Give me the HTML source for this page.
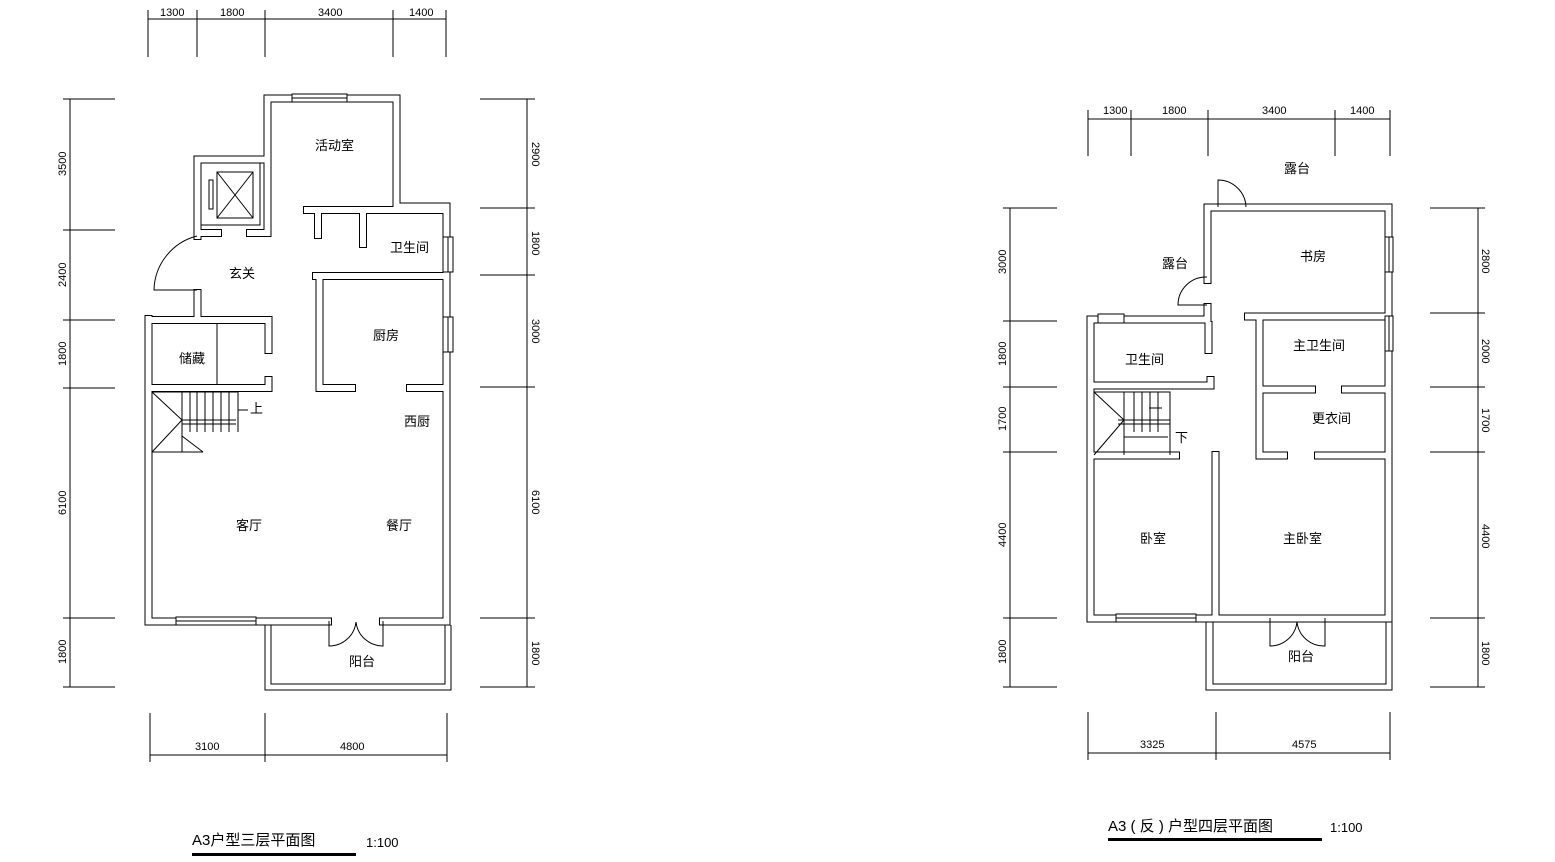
<!DOCTYPE html>
<html><head><meta charset="utf-8"><style>
html,body{margin:0;padding:0;background:#fff}
svg{display:block}
text{font-family:"Liberation Sans","Noto Sans CJK SC",sans-serif;fill:#000}
.d{stroke:#000;stroke-width:1;fill:none}
.t{font-size:11px}
.r{font-size:13px}
</style></head><body>
<svg width="1555" height="862" viewBox="0 0 1555 862" xmlns="http://www.w3.org/2000/svg">
<defs>
<g id="LW">
<path d="M148.5 319 V621.5 H328 M383 621.5 H446.5 V206.5 H396.5 V98.5 H267.5 V159.5 H197.5 V236"/>
<path d="M197.5 293 V320 M148.5 320 H268.5 V350 M268.5 380 V388 H148.5"/>
<path d="M267.5 159.5 V233 M264 233 H250 M201 233 H218"/>
<path d="M307 210 H446 M318 210 V235 M363 210 V244"/>
<path d="M316 276 H446 M319.5 276 V388 H352 M410 388 H446"/>
<path d="M1090.5 319.5 V618.5 H1388.5 V207.5 H1207.5 V280 M1207.5 307 V319.5 H1090.5"/>
<path d="M1248 316.5 H1388 M1259.5 316.5 V455.5 H1284 M1318 455.5 H1388 M1259.5 389.5 H1312 M1345 389.5 H1388"/>
<path d="M1090.5 385.5 H1210.5 V380 M1208.5 325 V350"/>
<path d="M1215.5 455 V618 M1094 455.5 H1176"/>
</g>
</defs>
<g fill="none" stroke-linecap="square">
<use href="#LW" stroke="#000" stroke-width="8"/>
<use href="#LW" stroke="#fff" stroke-width="6"/>
</g>
<g class="d">
<!-- left plan extras -->
<rect x="292" y="94" width="55" height="8" fill="#fff"/><line x1="292" y1="98" x2="347" y2="98"/>
<rect x="443" y="237" width="10" height="35" fill="#fff"/><line x1="448" y1="237" x2="448" y2="272"/>
<rect x="443" y="317" width="10" height="35" fill="#fff"/><line x1="448" y1="317" x2="448" y2="352"/>
<rect x="176" y="617" width="80" height="8" fill="#fff"/><line x1="176" y1="621" x2="256" y2="621"/>
<rect x="201" y="163" width="59" height="62"/>
<rect x="217" y="172" width="36" height="46"/><path d="M217 172 L253 218 M253 172 L217 218"/>
<rect x="209" y="180" width="4" height="29"/>
<path d="M197 236 A57 57 0 0 0 154 290 H197"/>
<path d="M152 392 H238 M152 452 H203 M182 392 V452 M190 392 V432 M197 392 V432 M205 392 V432 M213 392 V432 M221 392 V432 M229 392 V432 M238 392 V432 M152 392 L182 420 L152 452 M182 420 H236 M182 424 H236 M238 410 H248 M182 436 L203 452"/>
<path d="M217 323 V385"/>
<path d="M265 625 V690 H451 V625 M271 625 V684 H445 V625"/>
<path d="M329 621 V646 A27 27 0 0 0 356 622 A27 27 0 0 0 383 646 V621"/>
<!-- right plan extras -->
<rect x="1098" y="314" width="26" height="9" fill="#fff"/>
<rect x="1385" y="237" width="8" height="35" fill="#fff"/><line x1="1389" y1="237" x2="1389" y2="272"/>
<rect x="1385" y="316" width="8" height="35" fill="#fff"/><line x1="1389" y1="316" x2="1389" y2="351"/>
<rect x="1116" y="614" width="80" height="8" fill="#fff"/><line x1="1116" y1="618" x2="1196" y2="618"/>
<path d="M1218 207 V180 A28 28 0 0 1 1246 207"/>
<path d="M1207 277 A28 28 0 0 0 1178 305 H1207"/>
<path d="M1094 392 H1170 V455 M1124 392 V455 M1134 392 V432 M1142 392 V432 M1150 392 V432 M1158 392 V432 M1094 392 L1124 420 L1094 455 M1118 420 H1170 M1118 424 H1170 M1124 437 H1168 M1149 408 H1162"/>
<path d="M1206 622 V690 H1392 V622 M1213 622 V684 H1386 V622"/>
<path d="M1270 618 V646 A27 27 0 0 0 1297 622 A27 27 0 0 0 1325 646 V618"/>
</g>
<!-- dimensions -->
<g class="d">
<path d="M148 19 H446 M148 10 V57 M197 10 V57 M265 10 V57 M393 10 V57 M446 10 V57"/>
<path d="M70 99 V687 M63 99 H115 M63 230 H115 M63 320 H115 M63 388 H115 M63 618 H115 M63 687 H115"/>
<path d="M527 99 V687 M480 99 H535 M480 208 H535 M480 275 H535 M480 387 H535 M480 618 H535 M480 687 H535"/>
<path d="M150 755 H447 M150 713 V762 M265 713 V762 M447 713 V762"/>
<path d="M1088 119 H1390 M1088 110 V156 M1131 110 V156 M1208 110 V156 M1335 110 V156 M1390 110 V156"/>
<path d="M1010 208 V687 M1003 208 H1057 M1003 321 H1057 M1003 387 H1057 M1003 452 H1057 M1003 618 H1057 M1003 687 H1057"/>
<path d="M1478 208 V687 M1430 208 H1485 M1430 313 H1485 M1430 387 H1485 M1430 452 H1485 M1430 618 H1485 M1430 687 H1485"/>
<path d="M1088 753 H1390 M1088 712 V760 M1216 712 V760 M1390 712 V760"/>
</g>
<g class="t">
<text x="160" y="16">1300</text><text x="220" y="16">1800</text><text x="318" y="16">3400</text><text x="409" y="16">1400</text>
<text x="195" y="750">3100</text><text x="340" y="750">4800</text>
<text x="1103" y="114">1300</text><text x="1162" y="114">1800</text><text x="1262" y="114">3400</text><text x="1350" y="114">1400</text>
<text x="1140" y="748">3325</text><text x="1292" y="748">4575</text>
<g transform="rotate(-90)">
<text x="-176" y="66">3500</text><text x="-287" y="66">2400</text><text x="-366" y="66">1800</text><text x="-515" y="66">6100</text><text x="-664" y="66">1800</text>
<text x="-274" y="1006">3000</text><text x="-366" y="1006">1800</text><text x="-431" y="1006">1700</text><text x="-547" y="1006">4400</text><text x="-664" y="1006">1800</text>
</g>
<g transform="rotate(90)">
<text x="142" y="-532">2900</text><text x="231" y="-532">1800</text><text x="319" y="-532">3000</text><text x="490" y="-532">6100</text><text x="641" y="-532">1800</text>
<text x="249" y="-1482">2800</text><text x="339" y="-1482">2000</text><text x="408" y="-1482">1700</text><text x="524" y="-1482">4400</text><text x="641" y="-1482">1800</text>
</g>
</g>
<g class="r">
<text x="315" y="150">活动室</text><text x="390" y="252">卫生间</text><text x="229" y="278">玄关</text>
<text x="373" y="340">厨房</text><text x="179" y="363">储藏</text><text x="250" y="413">上</text>
<text x="404" y="426">西厨</text><text x="236" y="530">客厅</text><text x="386" y="530">餐厅</text><text x="349" y="666">阳台</text>
<text x="1284" y="173">露台</text><text x="1162" y="268">露台</text><text x="1300" y="261">书房</text>
<text x="1293" y="350">主卫生间</text><text x="1125" y="364">卫生间</text><text x="1312" y="423">更衣间</text><text x="1175" y="442">下</text>
<text x="1140" y="543">卧室</text><text x="1283" y="543">主卧室</text><text x="1288" y="661">阳台</text>
</g>
<text x="192" y="845" style="font-size:15px">A3户型三层平面图</text>
<rect x="192" y="853" width="164" height="3" fill="#000"/>
<text x="366" y="847" class="r">1:100</text>
<text x="1108" y="831" style="font-size:15px">A3 ( 反 ) 户型四层平面图</text>
<rect x="1108" y="838" width="214" height="3" fill="#000"/>
<text x="1330" y="832" class="r">1:100</text>
</svg>
</body></html>
